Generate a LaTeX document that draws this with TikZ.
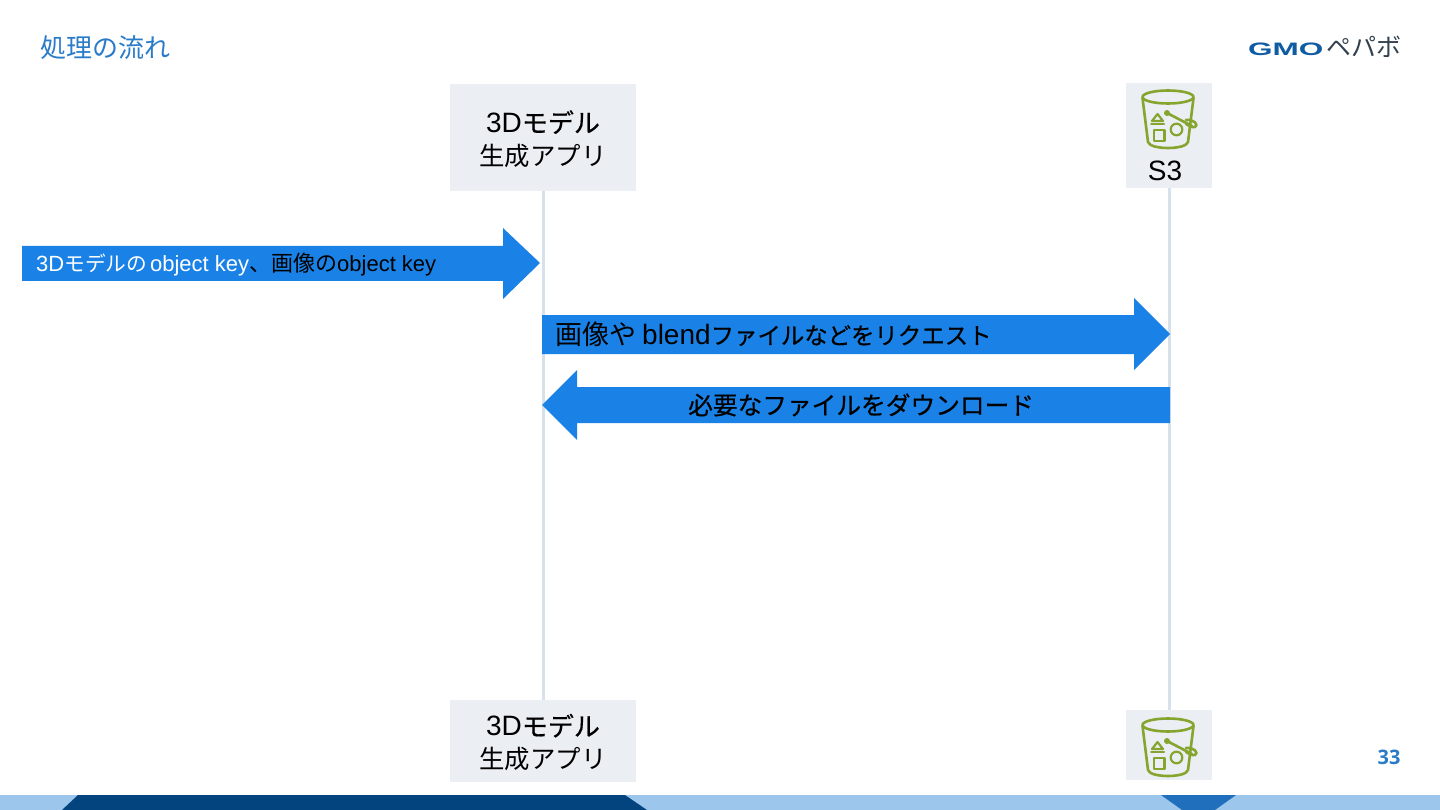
\documentclass[tikz,border=0pt]{standalone}
\usepackage{fontspec}
\setmainfont{Liberation Sans}
\newfontfamily\cjk{Noto Sans CJK JP}
\newfontfamily\cjkm[FakeBold=0.6]{Noto Sans CJK JP}
\newfontfamily\numfont{Open Sans}
\newcommand{\fsz}[1]{\fontsize{#1}{#1}\selectfont}
\definecolor{arrowblue}{HTML}{1A82E6}
\definecolor{boxgrey}{HTML}{EBEEF3}
\definecolor{lifeline}{HTML}{D6E1EC}
\definecolor{titleblue}{HTML}{2A7CC9}
\definecolor{footlight}{HTML}{9CC6EC}
\definecolor{footdark}{HTML}{03447F}
\definecolor{footmid}{HTML}{1F6FBC}
\definecolor{bucket}{HTML}{86A52E}
\definecolor{logoblue}{HTML}{0F5CA3}
\definecolor{logogrey}{HTML}{33414F}
\tikzset{
  x=1pt,y=-1pt,
  actor/.style={fill=boxgrey,draw=none,minimum width=#1,inner sep=0pt},
  actorlabel/.style={inner sep=0pt,align=center,text=black,font=\fsz{28}},
  lifeln/.style={draw=lifeline,line width=3pt},
  flow/.style={fill=arrowblue,draw=none},
  flowlabel/.style={inner sep=0pt,anchor=west,text=black,font=\fsz{28}},
  bucketline/.style={draw=bucket,line width=2.6pt,line join=round,line cap=round,fill=none},
}
\newcommand{\bucketicon}[1]{%
  \begin{scope}[yshift=-#1pt]
    \draw[bucketline] (1168,97) ellipse [x radius=25.5,y radius=6.5];
    \draw[bucketline] (1142.5,98) -- (1148,142) .. controls (1150,150) and (1186,150) .. (1188,142) -- (1193.5,98);
    \draw[bucketline] (1167,113) -- (1192,126);
    \draw[bucketline] (1186,120) .. controls (1194,119) and (1199,125) .. (1195,127) .. controls (1192,128) and (1188,125) .. (1186,124);
    \fill[bucket] (1167,113) circle (3);
    \draw[bucketline,line width=2.2pt] (1157.5,114) -- (1163,121) -- (1152,121) -- cycle;
    \draw[bucketline,line width=2pt] (1151,124) -- (1164,124);
    \draw[bucketline,line width=2.2pt] (1154,130) rectangle (1164.5,141);
    \draw[bucketline,line width=2.2pt] (1176.5,129.5) circle (5.8);
  \end{scope}}
\newcommand{\apptext}{3D{\cjkm\fsz{26}モデル}\\[5pt]{\cjk\fsz{25.4}生成アプリ}}
\begin{document}
\begin{tikzpicture}
\useasboundingbox (0,0) rectangle (1440,810);
\fill[white] (0,0) rectangle (1440,810);
% footer
\fill[footlight] (0,795) rectangle (1440,810);
\fill[footdark] (62,810) -- (78,795) -- (625,795) -- (647,810) -- cycle;
\fill[footmid] (1161,795) -- (1236,795) -- (1215,810) -- (1182,810) -- cycle;
% title, logo, page number
\node (title) [anchor=west,inner sep=0pt,text=titleblue,font=\cjk\fsz{26}] at (40,48) {処理の流れ};
\node (logo) [anchor=west,inner sep=0pt] at (1248,47) {\textcolor{logoblue}{\raisebox{1.5pt}{\scalebox{1.75}[1]{\fsz{18}\bfseries GMO}}}\textcolor{logogrey}{\kern3pt\cjk\fsz{25}ペパボ}};
\node (page) [inner sep=0pt,text=titleblue,font=\numfont\bfseries\fsz{20}] at (1389,757) {33};
% actors
\node (appT) [actor=186pt,minimum height=107pt] at (543,137.5) {};
\node (appTl) [actorlabel] at (543,139) {\apptext};
\node (s3T) [actor=86pt,minimum height=105pt] at (1169,135.5) {};
\node (s3Tl) [inner sep=0pt,font=\fsz{28}] at (1165,171) {S3};
\node (appB) [actor=186pt,minimum height=82pt] at (543,741) {};
\node (appBl) [actorlabel] at (543,742.5) {\apptext};
\node (s3B) [actor=86pt,minimum height=70pt] at (1169,745) {};
% lifelines
\draw[lifeln] (appT.south) ++(0.5,0) -- (appB.north -| 543.5,0);
\draw[lifeln] (s3T.south) -- (s3B.north);
% icons
\bucketicon{0}
\bucketicon{628}
% arrows
\fill[flow] (22,246) -- (503,246) -- (503,228) -- (540,263) -- (503,299) -- (503,281) -- (22,281) -- cycle;
\fill[flow] (542,315) -- (1134,315) -- (1134,298) -- (1170,334) -- (1134,370) -- (1134,354) -- (542,354) -- cycle;
\fill[flow] (1170,387) -- (577,387) -- (577,370) -- (542,405) -- (577,440) -- (577,423) -- (1170,423) -- cycle;
% arrow labels
\node (l1) [flowlabel,font=\fsz{22}] at (36,264.5) {\textcolor{white}{3D{\cjk\fsz{20.7}モデルの}\kern3pt object key}{\cjk\fsz{22}、画像の}object key};
\node (l2) [flowlabel] at (555,334) {{\cjk\fsz{27}画像や}\kern6pt blend{\cjkm\fsz{23.4}ファイルなどをリクエスト}};
\node (l3) [flowlabel] at (688,405) {\cjkm\fsz{24.7}必要なファイルをダウンロード};
\end{tikzpicture}
\end{document}
